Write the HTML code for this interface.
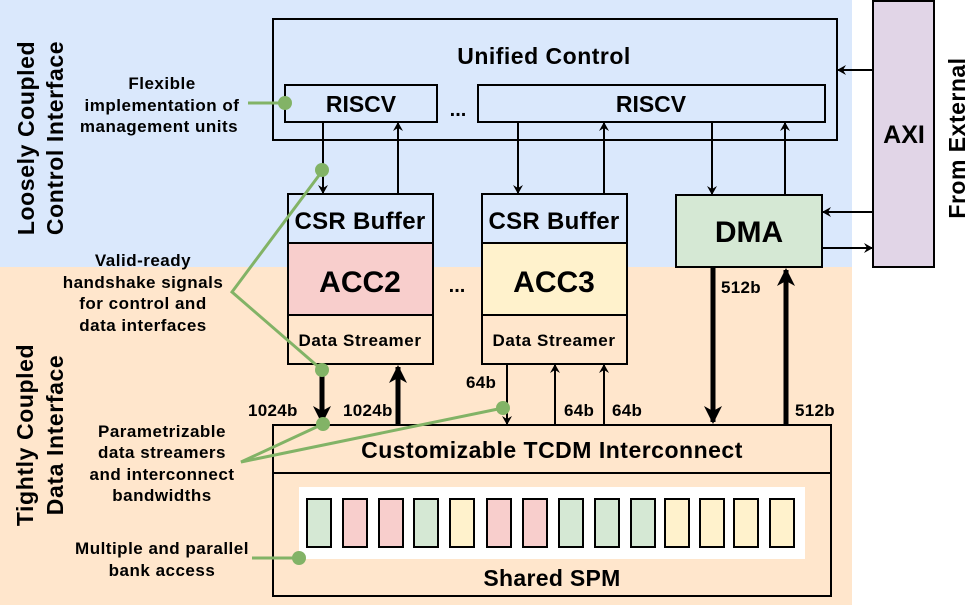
<!DOCTYPE html>
<html><head><meta charset="utf-8"><style>
html,body{margin:0;padding:0;background:#fff;}
svg{display:block;font-family:"Liberation Sans",sans-serif;font-weight:bold;}
</style></head><body>
<svg width="972" height="609" viewBox="0 0 972 609" xmlns="http://www.w3.org/2000/svg">
<defs>
<marker id="a" markerWidth="10" markerHeight="10" refX="8" refY="5" orient="auto" markerUnits="userSpaceOnUse"><path d="M0,0 L9,5 L0,10 L3,5 Z" fill="#000"/></marker>
<marker id="b" markerWidth="20" markerHeight="20" refX="16" refY="10" orient="auto" markerUnits="userSpaceOnUse"><path d="M0,1 L18,10 L0,19 L5,10 Z" fill="#000"/></marker>
</defs>
<rect x="0" y="0" width="852" height="267" fill="#dae8fc"/>
<rect x="0" y="267" width="852" height="338" fill="#ffe6cc"/>
<rect x="873" y="1" width="61" height="266" fill="#e1d5e7" stroke="#000" stroke-width="2"/>
<text x="904" y="143" font-size="25" text-anchor="middle">AXI</text>
<text transform="translate(965,138) rotate(-90)" font-size="23" text-anchor="middle" letter-spacing="0.5">From External</text>
<text transform="translate(34,138) rotate(-90)" font-size="23" text-anchor="middle" letter-spacing="0.6">Loosely Coupled</text>
<text transform="translate(63,138) rotate(-90)" font-size="23" text-anchor="middle" letter-spacing="0.6">Control Interface</text>
<text transform="translate(33,435) rotate(-90)" font-size="23" text-anchor="middle" letter-spacing="0.6">Tightly Coupled</text>
<text transform="translate(63,435) rotate(-90)" font-size="23" text-anchor="middle" letter-spacing="0.6">Data Interface</text>

<rect x="273" y="19" width="564" height="121" fill="#dae8fc" stroke="#000" stroke-width="2"/>
<text x="544" y="64" font-size="23" text-anchor="middle" letter-spacing="0.5">Unified Control</text>
<rect x="285" y="85" width="152" height="37" fill="#dae8fc" stroke="#000" stroke-width="2"/>
<text x="361" y="112" font-size="23" text-anchor="middle">RISCV</text>
<text x="458" y="116" font-size="20" text-anchor="middle">...</text>
<rect x="478" y="85" width="347" height="37" fill="#dae8fc" stroke="#000" stroke-width="2"/>
<text x="651" y="112" font-size="23" text-anchor="middle">RISCV</text>

<g stroke="#000" stroke-width="2" fill="none">
<line x1="873" y1="70" x2="838" y2="70" marker-end="url(#a)"/>
<line x1="873" y1="212" x2="823" y2="212" marker-end="url(#a)"/>
<line x1="822" y1="248" x2="872" y2="248" marker-end="url(#a)"/>
<line x1="323" y1="122" x2="323" y2="193" marker-end="url(#a)"/>
<line x1="398" y1="194" x2="398" y2="123" marker-end="url(#a)"/>
<line x1="518" y1="122" x2="518" y2="193" marker-end="url(#a)"/>
<line x1="604" y1="194" x2="604" y2="123" marker-end="url(#a)"/>
<line x1="712" y1="122" x2="712" y2="194" marker-end="url(#a)"/>
<line x1="785" y1="195" x2="785" y2="123" marker-end="url(#a)"/>
<line x1="507" y1="364" x2="507" y2="424" marker-end="url(#a)"/>
<line x1="555" y1="425" x2="555" y2="365" marker-end="url(#a)"/>
<line x1="604" y1="425" x2="604" y2="365" marker-end="url(#a)"/>
</g>
<g stroke="#000" stroke-width="5" fill="none">
<line x1="322" y1="364" x2="322" y2="422" marker-end="url(#b)"/>
<line x1="398" y1="425" x2="398" y2="367" marker-end="url(#b)"/>
<line x1="713" y1="267" x2="713" y2="422" marker-end="url(#b)"/>
<line x1="786" y1="425" x2="786" y2="270" marker-end="url(#b)"/>
</g>

<rect x="288" y="194" width="145" height="49" fill="#dae8fc" stroke="#000" stroke-width="2"/>
<rect x="288" y="243" width="145" height="72" fill="#f8cecc" stroke="#000" stroke-width="2"/>
<rect x="288" y="315" width="145" height="49" fill="#ffe6cc" stroke="#000" stroke-width="2"/>
<text x="360" y="229" font-size="24" text-anchor="middle" letter-spacing="0.3">CSR Buffer</text>
<text x="360" y="292" font-size="30" text-anchor="middle">ACC2</text>
<text x="360" y="346" font-size="17" text-anchor="middle" letter-spacing="0.6">Data Streamer</text>
<text x="457" y="292" font-size="20" text-anchor="middle">...</text>
<rect x="482" y="194" width="145" height="49" fill="#dae8fc" stroke="#000" stroke-width="2"/>
<rect x="482" y="243" width="145" height="72" fill="#fff2cc" stroke="#000" stroke-width="2"/>
<rect x="482" y="315" width="145" height="49" fill="#ffe6cc" stroke="#000" stroke-width="2"/>
<text x="554" y="229" font-size="24" text-anchor="middle" letter-spacing="0.3">CSR Buffer</text>
<text x="554" y="292" font-size="30" text-anchor="middle">ACC3</text>
<text x="554" y="346" font-size="17" text-anchor="middle" letter-spacing="0.6">Data Streamer</text>
<rect x="676" y="195" width="146" height="72" fill="#d5e8d4" stroke="#000" stroke-width="2"/>
<text x="749" y="242" font-size="30" text-anchor="middle">DMA</text>

<g font-size="17" letter-spacing="0.3">
<text x="248" y="416">1024b</text>
<text x="343" y="416">1024b</text>
<text x="466" y="388">64b</text>
<text x="564" y="416">64b</text>
<text x="612" y="416">64b</text>
<text x="721" y="293">512b</text>
<text x="795" y="416">512b</text>
</g>

<rect x="273" y="425" width="558" height="171" fill="#ffe6cc" stroke="#000" stroke-width="2"/>
<line x1="273" y1="473" x2="831" y2="473" stroke="#000" stroke-width="2"/>
<text x="552" y="458" font-size="23" text-anchor="middle" letter-spacing="0.5">Customizable TCDM Interconnect</text>
<rect x="299" y="487" width="506" height="72" fill="#fff"/>
<g stroke="#000" stroke-width="2">
<rect x="307" y="499" width="24" height="48" fill="#d5e8d4"/>
<rect x="343" y="499" width="24" height="48" fill="#f8cecc"/>
<rect x="379" y="499" width="24" height="48" fill="#f8cecc"/>
<rect x="414" y="499" width="24" height="48" fill="#d5e8d4"/>
<rect x="450" y="499" width="24" height="48" fill="#fff2cc"/>
<rect x="487" y="499" width="24" height="48" fill="#f8cecc"/>
<rect x="523" y="499" width="24" height="48" fill="#f8cecc"/>
<rect x="559" y="499" width="24" height="48" fill="#d5e8d4"/>
<rect x="595" y="499" width="24" height="48" fill="#d5e8d4"/>
<rect x="631" y="499" width="24" height="48" fill="#d5e8d4"/>
<rect x="665" y="499" width="24" height="48" fill="#fff2cc"/>
<rect x="700" y="499" width="24" height="48" fill="#fff2cc"/>
<rect x="734" y="499" width="24" height="48" fill="#fff2cc"/>
<rect x="770" y="499" width="24" height="48" fill="#fff2cc"/>
</g>
<text x="552" y="586" font-size="23" text-anchor="middle" letter-spacing="0.3">Shared SPM</text>

<g stroke="#82b366" stroke-width="3" fill="none">
<line x1="248" y1="103" x2="285" y2="103"/>
<polyline points="323,170 232,292 322,370"/>
<polyline points="323,424 241,462 503,408"/>
<line x1="252" y1="558" x2="299" y2="558"/>
</g>
<g fill="#82b366">
<circle cx="285" cy="103" r="7"/>
<circle cx="322" cy="170" r="7"/>
<circle cx="322" cy="370" r="7"/>
<circle cx="323" cy="424" r="7"/>
<circle cx="503" cy="408" r="7"/>
<circle cx="299" cy="558" r="7"/>
</g>

<g font-size="17" text-anchor="middle" letter-spacing="0.5">
<text x="162" y="89">Flexible</text>
<text x="162" y="111">implementation of</text>
<text x="159" y="132">management units</text>
<text x="143" y="266">Valid-ready</text>
<text x="143" y="288">handshake signals</text>
<text x="143" y="309">for control and</text>
<text x="143" y="331">data interfaces</text>
<text x="162" y="437">Parametrizable</text>
<text x="162" y="458">data streamers</text>
<text x="162" y="480">and interconnect</text>
<text x="162" y="501">bandwidths</text>
<text x="162" y="554">Multiple and parallel</text>
<text x="162" y="576">bank access</text>
</g>
</svg>
</body></html>
